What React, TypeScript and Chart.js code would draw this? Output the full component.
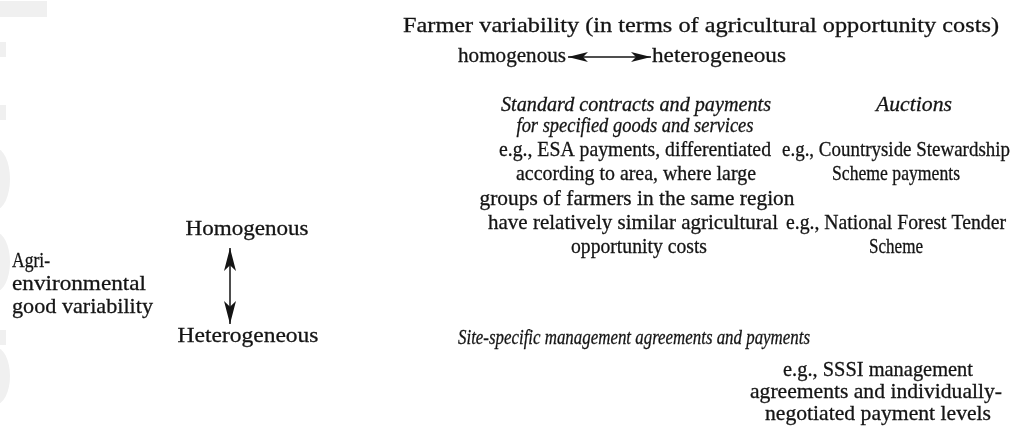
import React, { useEffect, useRef } from "react";
import { Chart, registerables } from "chart.js";

Chart.register(...registerables);

// ---- Text content of the diagram ----
const farmerAxisTitle = ["Farmer variability (in terms of agricultural opportunity costs)"];
const farmerAxisLow = ["homogenous"];
const farmerAxisHigh = ["heterogeneous"];
const goodAxisTitle = ["Agri-", "environmental", "good variability"];
const goodAxisLow = ["Homogenous"];
const goodAxisHigh = ["Heterogeneous"];
const standardHeading = ["Standard contracts and payments", "for specified goods and services"];
const standardExample = [
  "e.g., ESA payments, differentiated",
  "according to area, where large",
  "groups of farmers in the same region",
  "have relatively similar agricultural",
  "opportunity costs",
];
const auctionHeading = ["Auctions"];
const auctionExampleA = ["e.g., Countryside Stewardship", "Scheme payments"];
const auctionExampleB = ["e.g., National Forest Tender", "Scheme"];
const siteHeading = ["Site-specific management agreements and payments"];
const siteExample = ["e.g., SSSI management", "agreements and individually-", "negotiated payment levels"];

// ---- Layout (diagram coordinate space = 1014 x 426) ----
type Block = { lines: string[]; italic: boolean; cx: number[]; w: number[]; y: number; lh: number };
const blocks: Block[] = [
  { lines: farmerAxisTitle, italic: false, cx: [701], w: [596], y: 32, lh: 23 },
  { lines: farmerAxisLow, italic: false, cx: [512], w: [108], y: 62, lh: 23 },
  { lines: farmerAxisHigh, italic: false, cx: [719], w: [134], y: 62, lh: 23 },
  { lines: standardHeading, italic: true, cx: [636, 635], w: [270, 237], y: 111, lh: 21 },
  { lines: auctionHeading, italic: true, cx: [914], w: [76], y: 111, lh: 23 },
  { lines: standardExample, italic: false, cx: [635, 636, 637, 633, 639], w: [272, 240, 315, 290, 136], y: 156, lh: 24.3 },
  { lines: auctionExampleA, italic: false, cx: [896, 896], w: [228, 128], y: 156, lh: 24.3 },
  { lines: auctionExampleB, italic: false, cx: [896, 896], w: [220, 54], y: 228.9, lh: 24.3 },
  { lines: goodAxisLow, italic: false, cx: [247], w: [123], y: 235, lh: 23 },
  { lines: goodAxisTitle, italic: false, cx: [31, 79, 82.5], w: [38, 134, 141], y: 267, lh: 23 },
  { lines: goodAxisHigh, italic: false, cx: [248], w: [141], y: 342, lh: 23 },
  { lines: siteHeading, italic: true, cx: [634], w: [352], y: 344, lh: 23 },
  { lines: siteExample, italic: false, cx: [878, 876, 878], w: [190, 252, 226], y: 376, lh: 22 },
];

// arrow geometry derived from the label layout
const hArrowY = 57;
const hArrowStart = blocks[1].cx[0] + blocks[1].w[0] / 2 + 2;
const hArrowEnd = blocks[2].cx[0] - blocks[2].w[0] / 2 - 1;
const vArrowX = 230;
const vArrowTop = 248;
const vArrowBottom = 324;

// faint scan marks on left margin
const marks = [
  { kind: "rect", x: 0, y: 1, w: 47, h: 16 },
  { kind: "rect", x: 0, y: 42, w: 6, h: 15 },
  { kind: "rect", x: 0, y: 105, w: 6, h: 15 },
  { kind: "round", x: -20, y: 148, w: 30, h: 62 },
  { kind: "round", x: -20, y: 232, w: 30, h: 60 },
  { kind: "rect", x: 0, y: 330, w: 6, h: 15 },
  { kind: "round", x: -20, y: 347, w: 30, h: 58 },
];

const FONT = '"Liberation Serif", serif';
const INK = "#141414";

const diagramPlugin = {
  id: "diagram",
  beforeDatasetsDraw(chart: any) {
    const { ctx, scales } = chart;
    const xs = scales.x, ys = scales.y;
    ctx.save();
    ctx.fillStyle = "#f0f0f0";
    for (const m of marks) {
      const x0 = xs.getPixelForValue(m.x), x1 = xs.getPixelForValue(m.x + m.w);
      const y0 = ys.getPixelForValue(m.y), y1 = ys.getPixelForValue(m.y + m.h);
      if (m.kind === "rect") {
        ctx.fillRect(x0, y0, x1 - x0, y1 - y0);
      } else {
        ctx.beginPath();
        ctx.ellipse((x0 + x1) / 2, (y0 + y1) / 2, (x1 - x0) / 2, (y1 - y0) / 2, 0, 0, Math.PI * 2);
        ctx.fill();
      }
    }
    ctx.restore();
  },
  afterDatasetsDraw(chart: any) {
    const { ctx, scales } = chart;
    const xs = scales.x, ys = scales.y;
    ctx.save();
    ctx.fillStyle = INK;
    ctx.strokeStyle = INK;
    ctx.textAlign = "left";
    ctx.textBaseline = "alphabetic";
    for (const b of blocks) {
      ctx.font = `${b.italic ? "italic " : ""}${b.italic ? 21 : 22}px ${FONT}`;
      b.lines.forEach((t, i) => {
        const left = xs.getPixelForValue(b.cx[i] - b.w[i] / 2);
        const right = xs.getPixelForValue(b.cx[i] + b.w[i] / 2);
        const base = ys.getPixelForValue(b.y + i * b.lh);
        const nat = ctx.measureText(t).width;
        const s = (right - left) / nat;
        ctx.save();
        ctx.translate(left, base);
        ctx.scale(s, 1);
        ctx.fillText(t, 0, 0);
        ctx.lineWidth = 0.3;
        ctx.strokeText(t, 0, 0);
        ctx.restore();
      });
    }
    // arrowheads at the ends of each arrow dataset
    const head = (tx: number, ty: number, dx: number, dy: number, len: number, half: number) => {
      const px = -dy, py = dx;
      ctx.beginPath();
      ctx.moveTo(tx, ty);
      ctx.lineTo(tx - dx * len + px * half, ty - dy * len + py * half);
      ctx.lineTo(tx - dx * len * 0.75, ty - dy * len * 0.75);
      ctx.lineTo(tx - dx * len - px * half, ty - dy * len - py * half);
      ctx.closePath();
      ctx.fill();
    };
    chart.data.datasets.forEach((_d: any, i: number) => {
      const pts = chart.getDatasetMeta(i).data;
      if (pts.length < 2) return;
      const a = pts[0], z = pts[pts.length - 1];
      const L = Math.hypot(z.x - a.x, z.y - a.y);
      const dx = (z.x - a.x) / L, dy = (z.y - a.y) / L;
      const horiz = Math.abs(dx) > Math.abs(dy);
      const len = horiz ? 20 : 23;
      const half = horiz ? 5 : 6;
      head(z.x, z.y, dx, dy, len, half);
      head(a.x, a.y, -dx, -dy, len, half);
    });
    ctx.restore();
  },
};

export default function App() {
  const ref = useRef<HTMLCanvasElement | null>(null);
  useEffect(() => {
    if (!ref.current) return;
    const chart = new Chart(ref.current, {
      type: "scatter",
      data: {
        datasets: [
          {
            type: "line",
            label: "farmer variability",
            data: [
              { x: hArrowStart, y: hArrowY },
              { x: hArrowEnd, y: hArrowY },
            ],
            borderColor: INK,
            borderWidth: 1.5,
            pointRadius: 0,
            showLine: true,
          },
          {
            type: "line",
            label: "good variability",
            data: [
              { x: vArrowX, y: vArrowTop },
              { x: vArrowX, y: vArrowBottom },
            ],
            borderColor: INK,
            borderWidth: 1.5,
            pointRadius: 0,
            showLine: true,
          },
        ],
      } as any,
      options: {
        animation: false,
        responsive: false,
        maintainAspectRatio: false,
        layout: { padding: 0 },
        events: [],
        plugins: { legend: { display: false }, tooltip: { enabled: false }, title: { display: false } },
        scales: {
          x: { type: "linear", min: 0, max: 1014, display: false },
          y: { type: "linear", min: 0, max: 426, reverse: true, display: false },
        },
      },
      plugins: [diagramPlugin],
    });
    return () => chart.destroy();
  }, []);
  return (
    <div style={{ position: "absolute", left: 0, top: 0, width: 1014, height: 426, background: "#fff" }}>
      <canvas ref={ref} width={1014} height={426} style={{ display: "block", width: 1014, height: 426 }} />
    </div>
  );
}
